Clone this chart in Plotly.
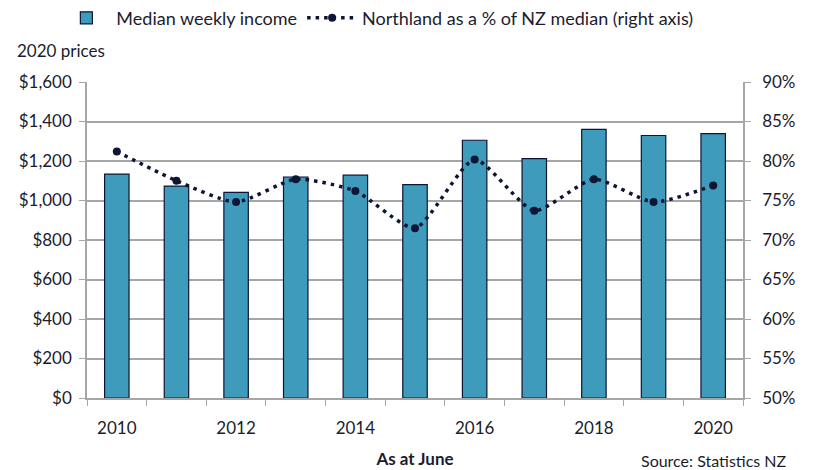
import plotly.graph_objects as go

YEARS = [2010, 2011, 2012, 2013, 2014, 2015, 2016, 2017, 2018, 2019, 2020]
MEDIAN_WEEKLY_INCOME = [1134, 1073, 1041, 1119, 1128, 1080, 1305, 1212, 1360, 1329, 1339]
NORTHLAND_PCT_OF_NZ = [81.2, 77.5, 74.8, 77.7, 76.2, 71.5, 80.2, 73.7, 77.7, 74.8, 76.9]
INCOME_TICKS = [0, 200, 400, 600, 800, 1000, 1200, 1400, 1600]
PCT_TICKS = [50, 55, 60, 65, 70, 75, 80, 85, 90]
YEAR_LABELS = [2010, 2012, 2014, 2016, 2018, 2020]

BAR_COLOR = "#3f9bbb"
NAVY = "#0f1535"
GRID_COLOR = "#a6a6a6"
TEXT_COLOR = "#1c1c2e"
FONT = "Lato, Noto Sans, sans-serif"

# the page body has an 8px margin, so the figure is 8px smaller each way
fig = go.Figure()

fig.add_trace(
    go.Bar(
        x=YEARS,
        y=MEDIAN_WEEKLY_INCOME,
        name="Median weekly income",
        marker={"color": BAR_COLOR, "line": {"color": NAVY, "width": 1.2}},
        width=0.41,
    )
)

fig.add_trace(
    go.Scatter(
        x=YEARS,
        y=NORTHLAND_PCT_OF_NZ,
        name="Northland as a % of NZ median (right axis)",
        yaxis="y2",
        mode="lines+markers",
        line={"color": NAVY, "width": 3.5, "dash": "3.5px,5px", "shape": "spline", "smoothing": 0.6},
        marker={"color": NAVY, "size": 8},
    )
)

fig.update_layout(
    width=806,
    height=462,
    paper_bgcolor="white",
    plot_bgcolor="white",
    font={"family": FONT, "color": TEXT_COLOR, "size": 17},
    margin={"l": 79, "r": 71, "t": 74, "b": 72, "autoexpand": False},
    showlegend=True,
    legend={
        "orientation": "h",
        "x": 0.06,
        "xref": "container",
        "xanchor": "left",
        "y": 0.978,
        "yref": "container",
        "yanchor": "middle",
        "font": {"size": 18},
        "itemwidth": 50,
        "bgcolor": "rgba(0,0,0,0)",
    },
    xaxis={
        "range": [2009.5, 2020.5],
        "tickvals": YEAR_LABELS,
        "ticks": "",
        "ticklabelstandoff": 14,
        "automargin": False,
        "showgrid": False,
        "showline": True,
        "linecolor": GRID_COLOR,
        "linewidth": 1.5,
        "tickfont": {"size": 17},
        "title": {"text": "<b>As at June</b>", "font": {"size": 17}, "standoff": 16},
        "minor": {
            "tickvals": [y - 0.5 for y in YEARS] + [2020.5],
            "ticks": "outside",
            "ticklen": 6,
            "tickcolor": GRID_COLOR,
            "showgrid": False,
        },
        "zeroline": False,
    },
    yaxis={
        "range": [0, 1600],
        "tickvals": INCOME_TICKS,
        "ticktext": [f"${v:,}" for v in INCOME_TICKS],
        "automargin": False,
        "showgrid": True,
        "gridcolor": GRID_COLOR,
        "gridwidth": 1.5,
        "showline": True,
        "linecolor": GRID_COLOR,
        "linewidth": 1.5,
        "ticks": "outside",
        "ticklen": 6,
        "tickcolor": GRID_COLOR,
        "ticklabelstandoff": 4,
        "tickfont": {"size": 17},
        "zeroline": False,
    },
    yaxis2={
        "range": [50, 90],
        "tickvals": PCT_TICKS,
        "ticktext": [f"{v}%" for v in PCT_TICKS],
        "overlaying": "y",
        "side": "right",
        "automargin": False,
        "showgrid": False,
        "showline": True,
        "linecolor": GRID_COLOR,
        "linewidth": 1.5,
        "ticks": "outside",
        "ticklen": 6,
        "tickcolor": GRID_COLOR,
        "ticklabelstandoff": 8,
        "tickfont": {"size": 17},
        "zeroline": False,
    },
    annotations=[
        {
            "text": "2020 prices",
            "xref": "paper",
            "yref": "paper",
            "x": -0.11,
            "y": 1.06,
            "xanchor": "left",
            "yanchor": "bottom",
            "showarrow": False,
            "font": {"size": 17},
        },
        {
            "text": "Source: Statistics NZ",
            "xref": "paper",
            "yref": "paper",
            "x": 1.07,
            "y": -0.16,
            "xanchor": "right",
            "yanchor": "top",
            "showarrow": False,
            "font": {"size": 16},
        },
    ],
)

fig.write_html("out.html")
